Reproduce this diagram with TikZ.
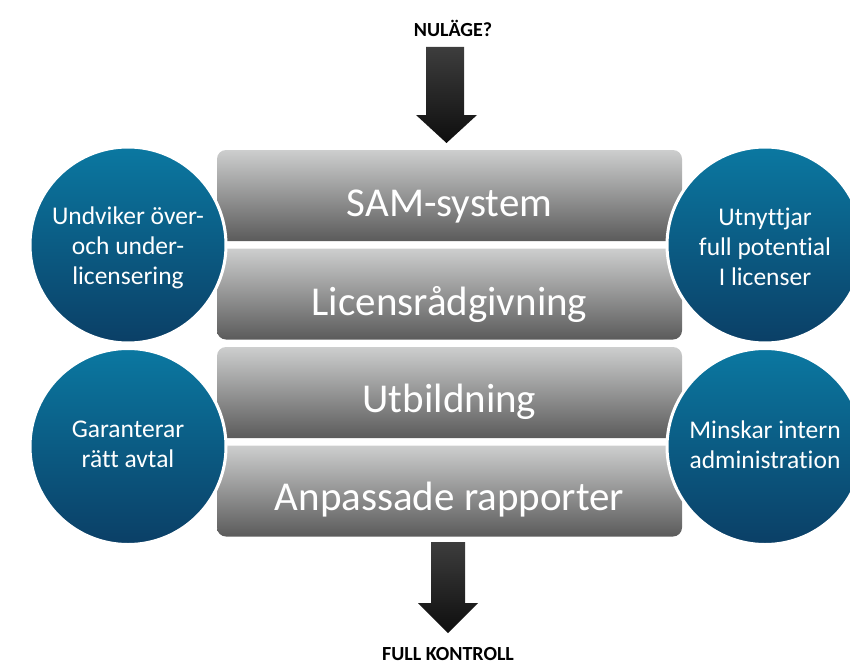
\documentclass[tikz,border=0pt]{standalone}
\usepackage{fontspec}
\setmainfont{Carlito}[Ligatures=NoCommon]
\definecolor{barlight}{HTML}{CDCECE}
\definecolor{bardark}{HTML}{5B5B5B}
\definecolor{goaltop}{HTML}{0B78A1}
\definecolor{goalbottom}{HTML}{0B3F66}
\definecolor{arrowtop}{HTML}{3D3D3D}
\definecolor{arrowbottom}{HTML}{0E0E0E}
\begin{document}
\begin{tikzpicture}[x=1pt,y=-1pt,
  layer/.style={rectangle, rounded corners=9pt, minimum width=465pt, minimum height=91pt,
    inner sep=0pt, top color=barlight, bottom color=bardark, draw=none},
  layertext/.style={text=white, font=\fontsize{41}{49}\selectfont, anchor=base, inner sep=0pt},
  goal/.style={circle, minimum size=196pt, inner sep=0pt, draw=white, line width=3pt,
    top color=goaltop, bottom color=goalbottom},
  goaltext/.style={text=white, align=center, inner sep=0pt,
    font=\fontsize{25.5}{30}\selectfont},
  caption/.style={font=\bfseries\fontsize{20}{23}\selectfont, text=black, inner sep=0pt},
  blockarrow/.style={top color=arrowtop, bottom color=arrowbottom, draw=none}]
\useasboundingbox (0,0) rectangle (850,666);
\clip (0,0) rectangle (850,666);

% the four stacked service layers
\node[layer] (sam)  at (449.5,195.5) {};
\node[layer] (lic)  at (449.5,294)   {};
\node[layer] (utb)  at (449.5,392.5) {};
\node[layer] (rapp) at (449.5,491)   {};
\node[layertext] (samtext)  at (449.5,216.5) {SAM-system};
\node[layertext] (lictext)  at (449.5,315)   {Licensrådgivning};
\node[layertext] (utbtext)  at (449.5,412)   {Utbildning};
\node[layertext] (rapptext) at (449.5,510.5) {Anpassade rapporter};

% benefit circles on both sides
\node[goal] (over)  at (128,245)   {};
\node[goal] (avtal) at (128,446.5) {};
\node[goal] (full)  at (765,245)   {};
\node[goal] (admin) at (765,446.5) {};
\node[goaltext] (overtext)  at ([yshift=-3pt]over.center)  {Undviker över-\\och under-\\licensering};
\node[goaltext] (avtaltext) at ([yshift=2pt]avtal.center)  {Garanterar\\rätt avtal};
\node[goaltext] (fulltext)  at ([yshift=-2pt]full.center)  {Utnyttjar\\full potential\\I licenser};
\node[goaltext] (admintext) at ([yshift=2pt]admin.center)  {Minskar intern\\administration};

% start and end labels
\node[caption] (start) at (453,28)  {NULÄGE?};
\node[caption] (end)   at (448,654) {FULL KONTROLL};

% block arrows in and out of the stack
\shade[blockarrow] (426,47) -- (464,47) -- (464,115) -- (477,115) -- (446.5,143)
  -- (416,115) -- (426,115) -- cycle;
\shade[blockarrow] (431,542) -- (465,542) -- (465,603) -- (478,603) -- (448,633)
  -- (418,603) -- (431,603) -- cycle;
\end{tikzpicture}
\end{document}
